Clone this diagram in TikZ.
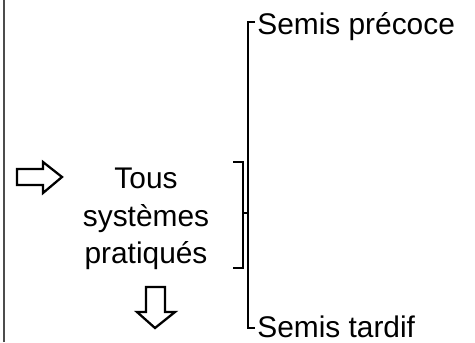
\documentclass[tikz,border=0pt]{standalone}
\usepackage{fontspec}
\setmainfont{Liberation Sans}
\usepackage{tikz}
\usetikzlibrary{arrows.meta, positioning}

\tikzset{
    texte/.style={font=\fontsize{17}{21.3}\selectfont, inner sep=0pt},
    fleche/.style={draw, line width=1.3pt, line join=miter, fill=white},
    crochet/.style={draw, line width=0.7pt}
}

\begin{document}
\begin{tikzpicture}
    \useasboundingbox (0,0) rectangle (9.5,6.84);
    % Bord gauche
    \draw[line width=1.1pt, black!70] (0.08,0) -- (0.08,6.84);

    % Texte central
    \node[texte, align=center] (tous) at (2.92,2.46) {Tous\\systèmes\\pratiqués};
    \node[texte, anchor=base west] (precoce) at (5.14,6.14) {Semis précoce};
    \node[texte, anchor=base west] (tardif) at (5.14,0.10) {Semis tardif};

    % Flèches creuses
    \draw[fleche] (0.34,3.46) -- (0.86,3.46) -- (0.86,3.60) -- (1.24,3.30)
        -- (0.86,2.98) -- (0.86,3.14) -- (0.34,3.14) -- cycle;
    \draw[fleche] (2.92,1.10) -- (3.30,1.10) -- (3.30,0.60) -- (3.50,0.60)
        -- (3.10,0.28) -- (2.74,0.60) -- (2.92,0.60) -- cycle;

    % Crochets
    \coordinate (milieu) at (4.86,2.58);
    \coordinate (haut) at (4.96,6.40);
    \coordinate (bas) at (4.96,0.28);
    \draw[crochet] (4.66,3.60) -- (4.86,3.60) -- (4.86,1.48) -- (4.66,1.48);
    \draw[crochet] (milieu) -- (milieu -| haut);
    \draw[crochet] ([xshift=-1pt]precoce.west |- haut) -- (haut) -- (bas)
        -- ([xshift=-1pt]tardif.west |- bas);
\end{tikzpicture}
\end{document}
